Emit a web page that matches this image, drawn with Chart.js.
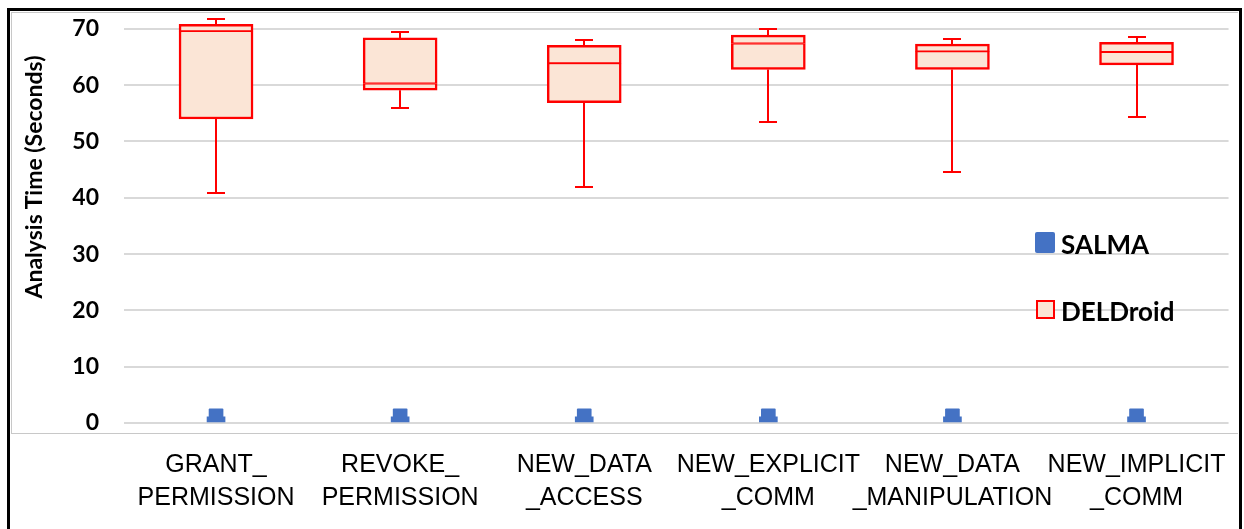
<!DOCTYPE html>
<html>
<head>
<meta charset="utf-8">
<script src="https://cdn.jsdelivr.net/npm/chart.js@4/dist/chart.umd.min.js"></script>
<style>
  html, body { margin: 0; padding: 0; background: #fff; }
  #wrap { position: relative; width: 1244px; height: 529px; overflow: hidden; }
  #chart { position: absolute; left: 0; top: 0; }
  .frame { position: absolute; pointer-events: none; box-sizing: border-box; }
  #outer { left: 7px; top: 8px; width: 1235px; height: 600px; border: 3px solid #000; border-bottom: none; }
  #inner { left: 11px; top: 12px; width: 1227px; height: 422px; border: 1px solid #c8c8c8; border-right: none; }
  #ytitle {
    position: absolute; left: 33px; top: 177px; white-space: nowrap;
    font: bold 23px Lato, sans-serif; color: #000;
    transform: translate(-50%, -50%) rotate(-90deg);
  }
  .leg { position: absolute; font: bold 26px Lato, sans-serif; line-height: 26px; color: #000; }
  .sw { position: absolute; box-sizing: border-box; }
</style>
</head>
<body>
<div id="wrap">
  <canvas id="chart" width="1244" height="529"></canvas>
  <div class="frame" id="inner"></div>
  <div class="frame" id="outer"></div>
  <div id="ytitle">Analysis Time (Seconds)</div>
  <div class="sw" style="left:1035px;top:232px;width:20px;height:21px;background:#4472C4;border-radius:2px;"></div>
  <div class="leg" style="left:1061px;top:231px;">SALMA</div>
  <div class="sw" style="left:1036px;top:300px;width:19px;height:19px;background:#FBE5D6;border:2px solid #FF0000;"></div>
  <div class="leg" style="left:1061px;top:298px;">DELDroid</div>
</div>
<script>
// categorie (etichette su due righe)
const categorie = [
  ["GRANT_", "PERMISSION"],
  ["REVOKE_", "PERMISSION"],
  ["NEW_DATA", "_ACCESS"],
  ["NEW_EXPLICIT", "_COMM"],
  ["NEW_DATA", "_MANIPULATION"],
  ["NEW_IMPLICIT", "_COMM"]
];

// DELDroid: box plot
const delMin    = [40.8, 56.0, 41.9, 53.4, 44.6, 54.3];
const delQ1     = [54.0, 59.1, 56.9, 62.8, 62.8, 63.6];
const delMedian = [69.6, 60.3, 63.9, 67.4, 66.0, 65.9];
const delQ3     = [70.8, 68.4, 67.1, 68.9, 67.3, 67.6];
const delMax    = [71.8, 69.5, 68.0, 69.9, 68.2, 68.6];

// SALMA: valori molto piccoli vicino allo zero
const salmaLow  = [0.2, 0.2, 0.2, 0.2, 0.2, 0.2];
const salmaMid  = [1.1, 1.1, 1.1, 1.1, 1.1, 1.1];
const salmaHigh = [2.5, 2.5, 2.5, 2.5, 2.5, 2.5];

const tickY = [0, 10, 20, 30, 40, 50, 60, 70];

const ROSSO = "#FF0000";
const PESCA = "#FBE5D6";
const BLU = "#4472C4";

// baffi e cappucci del box plot, disegnati con le scale del grafico
const baffiPlugin = {
  id: "baffi",
  afterDatasetsDraw(chart) {
    const { ctx, scales: { x, y } } = chart;
    ctx.save();
    ctx.strokeStyle = ROSSO;
    ctx.lineWidth = 2;
    categorie.forEach((_, i) => {
      const cx = Math.round(x.getPixelForValue(i));
      const segs = [[delQ3[i], delMax[i]], [delMin[i], delQ1[i]]];
      segs.forEach(([a, b]) => {
        ctx.beginPath();
        ctx.moveTo(cx, y.getPixelForValue(a));
        ctx.lineTo(cx, y.getPixelForValue(b));
        ctx.stroke();
      });
      [delMax[i], delMin[i]].forEach(v => {
        const py = Math.round(y.getPixelForValue(v));
        ctx.beginPath();
        ctx.moveTo(cx - 9, py);
        ctx.lineTo(cx + 9, py);
        ctx.stroke();
      });
    });
    ctx.restore();
  }
};

new Chart(document.getElementById("chart"), {
  type: "bar",
  data: {
    labels: categorie,
    datasets: [
      {
        label: "DELDroid basso",
        data: delQ1.map((v, i) => [v, delMedian[i]]),
        backgroundColor: PESCA,
        borderColor: ROSSO,
        borderWidth: { left: 2.5, right: 2.5, bottom: 2.5, top: 1.25 },
        borderSkipped: false,
        barThickness: 74,
        grouped: false
      },
      {
        label: "DELDroid alto",
        data: delMedian.map((v, i) => [v, delQ3[i]]),
        backgroundColor: PESCA,
        borderColor: ROSSO,
        borderWidth: { left: 2.5, right: 2.5, bottom: 1.25, top: 2.5 },
        borderSkipped: false,
        barThickness: 74,
        grouped: false
      },
      {
        label: "SALMA base",
        data: salmaLow.map((v, i) => [v, salmaMid[i]]),
        backgroundColor: BLU,
        borderWidth: 0,
        barThickness: 18,
        grouped: false
      },
      {
        label: "SALMA alto",
        data: salmaMid.map((v, i) => [v, salmaHigh[i]]),
        backgroundColor: BLU,
        borderWidth: 0,
        borderRadius: 1,
        barThickness: 14,
        grouped: false
      }
    ]
  },
  options: {
    responsive: false,
    animation: false,
    layout: { padding: { top: 12, right: 7, left: 0, bottom: 0 } },
    plugins: {
      legend: { display: false },
      tooltip: { enabled: false }
    },
    scales: {
      x: {
        grid: { display: false },
        border: { display: false },
        ticks: {
          autoSkip: false,
          maxRotation: 0,
          minRotation: 0,
          color: "#000",
          padding: 18,
          font: { family: "'Liberation Sans', Arial, sans-serif", size: 25, lineHeight: 1.32 }
        },
        afterFit(scale) { scale.height = 106; }
      },
      y: {
        min: 0,
        max: 73,
        border: { display: false },
        grid: { color: "#d9d9d9", lineWidth: 2, drawTicks: false },
        ticks: {
          stepSize: 10,
          padding: 25,
          color: "#000",
          font: { family: "Lato, sans-serif", size: 23, weight: "bold" }
        },
        afterBuildTicks(axis) {
          axis.ticks = tickY.map(v => ({ value: v }));
        },
        afterFit(scale) {
          scale.width = 124;
          scale.paddingTop = 0;
          scale.paddingBottom = 0;
        }
      }
    }
  },
  plugins: [baffiPlugin]
});
</script>
</body>
</html>
